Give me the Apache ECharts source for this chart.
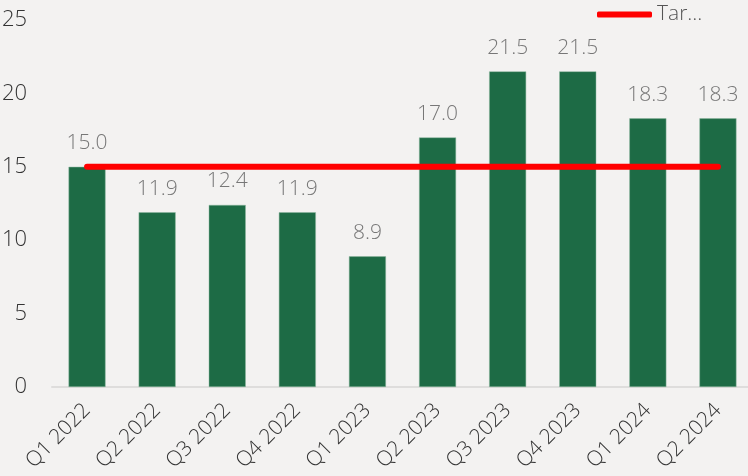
<!DOCTYPE html>
<html>
<head>
<meta charset="utf-8">
<script src="https://cdn.jsdelivr.net/npm/echarts@6/dist/echarts.min.js"></script>
<style>
  html, body { margin: 0; padding: 0; background: #f3f2f1; }
  #main { width: 748px; height: 476px; }
</style>
</head>
<body>
<div id="main"></div>
<script>
// quarters on the x axis
const quarters = ['Q1 2022', 'Q2 2022', 'Q3 2022', 'Q4 2022', 'Q1 2023',
  'Q2 2023', 'Q3 2023', 'Q4 2023', 'Q1 2024', 'Q2 2024'];
// bar values
const actual = [15.0, 11.9, 12.4, 11.9, 8.9, 17.0, 21.5, 21.5, 18.3, 18.3];
// target line
const target = [15, 15, 15, 15, 15, 15, 15, 15, 15, 15];

const font = '"Open Sans", "Noto Sans", sans-serif';

const myChart = echarts.init(document.getElementById('main'));
myChart.setOption({
  backgroundColor: '#f3f2f1',
  animation: false,
  textStyle: { fontFamily: font },
  grid: { left: 52, right: -5, top: 20, bottom: 89, outerBoundsMode: 'none', containLabel: false },
  legend: {
    left: 592,
    top: -1,
    data: ['Target'],
    icon: 'roundRect',
    itemWidth: 55,
    itemHeight: 6,
    itemGap: 4,
    textStyle: {
      fontFamily: font,
      fontWeight: 300,
      fontSize: 21,
      color: '#555',
      width: 52,
      overflow: 'truncate',
      ellipsis: '...'
    }
  },
  xAxis: {
    type: 'category',
    data: quarters,
    axisLine: { lineStyle: { color: '#dedddc', width: 2 } },
    axisTick: { show: false },
    axisLabel: {
      rotate: 45,
      margin: 20,
      fontSize: 21,
      fontWeight: 300,
      color: '#333',
      fontFamily: font
    }
  },
  yAxis: {
    type: 'value',
    min: 0,
    max: 25,
    interval: 5,
    splitLine: { show: false },
    axisLine: { show: false },
    axisLabel: { margin: 25, fontSize: 22, fontWeight: 300, color: '#333', fontFamily: font }
  },
  series: [
    {
      name: 'Actual',
      type: 'bar',
      data: actual,
      barWidth: 37,
      itemStyle: { color: '#1d6b45', borderColor: '#8fb8a0', borderWidth: 0.5 },
      label: {
        show: true,
        position: 'top',
        distance: 13,
        formatter: (p) => p.value.toFixed(1),
        fontSize: 21,
        fontWeight: 300,
        color: '#777',
        fontFamily: font
      }
    },
    {
      name: 'Target',
      type: 'line',
      data: target,
      showSymbol: false,
      symbol: 'none',
      color: '#ff0000',
      lineStyle: { color: '#ff0000', width: 6, cap: 'round' },
      z: 5
    }
  ]
});
</script>
</body>
</html>
